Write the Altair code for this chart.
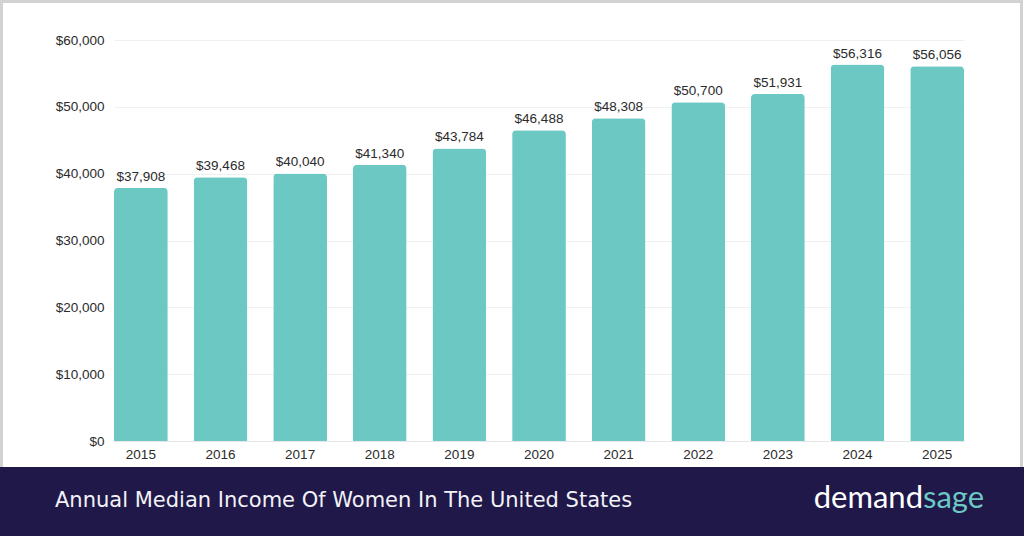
import altair as alt
import pandas as pd

years = ["2015", "2016", "2017", "2018", "2019", "2020", "2021", "2022", "2023", "2024", "2025"]
incomes = [37908, 39468, 40040, 41340, 43784, 46488, 48308, 50700, 51931, 56316, 56056]
y_ticks = [0, 10000, 20000, 30000, 40000, 50000, 60000]
title_text = "Annual Median Income Of Women In The United States"

df = pd.DataFrame({"year": years, "income": incomes})
df["label"] = df["income"].map(lambda v: f"${v:,}")

FONT = "Liberation Sans"
BAR = "#6cc8c2"
NAVY = "#1f1849"

W, H = 850, 401
L, T = 114, 40

base = alt.Chart(df)

x = alt.X("year:N", sort=years, title=None,
          scale=alt.Scale(paddingInner=0.325, paddingOuter=0),
          axis=alt.Axis(labelAngle=0, labelFont=FONT, labelFontSize=13.5, labelColor="#2b2b2b",
                        labelPadding=6, ticks=False, domain=True, domainColor="#e6e6e6",
                        domainWidth=1, grid=False))
y = alt.Y("income:Q", title=None,
          scale=alt.Scale(domain=[0, 60000], nice=False),
          axis=alt.Axis(values=y_ticks, labelExpr="'$' + format(datum.value, ',')",
                        labelFont=FONT, labelFontSize=13.5, labelColor="#2b2b2b",
                        labelPadding=10, ticks=False, domain=False,
                        grid=True, gridColor="#f0f0f0", gridWidth=1))

bars = base.mark_bar(color=BAR, cornerRadiusTopLeft=4, cornerRadiusTopRight=4).encode(x=x, y=y)
labels = base.mark_text(font=FONT, fontSize=13.5, color="#2b2b2b", baseline="bottom", dy=-4).encode(
    x=alt.X("year:N", sort=years), y="income:Q", text="label:N")

deco = pd.DataFrame({"k": [0]})
border = alt.Chart(deco).mark_rect(fill="white", fillOpacity=0, stroke="#d2d2d2", strokeWidth=3).encode(
    x=alt.value(-L + 1.5), x2=alt.value(1024 - L - 2.5), y=alt.value(-T + 1.5), y2=alt.value(536 - T))
footer = alt.Chart(deco).mark_rect(fill=NAVY).encode(
    x=alt.value(-L), x2=alt.value(1024 - L), y=alt.value(467 - T), y2=alt.value(536 - T))
ftitle = alt.Chart(pd.DataFrame({"t": [title_text]})).mark_text(
    font="DejaVu Sans", fontSize=21, color="#f2f2f7", align="left", baseline="middle").encode(
    x=alt.value(55 - L), y=alt.value(501 - T), text="t:N")
logo1 = alt.Chart(pd.DataFrame({"t": ["demand"]})).mark_text(
    font="Lato", fontSize=31, color="#ffffff", align="right", baseline="middle").encode(
    x=alt.value(923 - L), y=alt.value(499 - T), text="t:N")
logo2 = alt.Chart(pd.DataFrame({"t": ["sage"]})).mark_text(
    font="Lato", fontSize=31, color=BAR, align="left", baseline="middle").encode(
    x=alt.value(923 - L), y=alt.value(499 - T), text="t:N")

chart = alt.layer(bars, labels, border, footer, ftitle, logo1, logo2).properties(
    width=W, height=H,
    padding={"left": L, "top": T, "right": 1024 - L - W, "bottom": 536 - T - H},
    autosize=alt.AutoSizeParams(type="none"),
    background="white",
).configure_view(stroke=None)

chart.save("out.html", embed_options={"renderer": "svg", "actions": False})
